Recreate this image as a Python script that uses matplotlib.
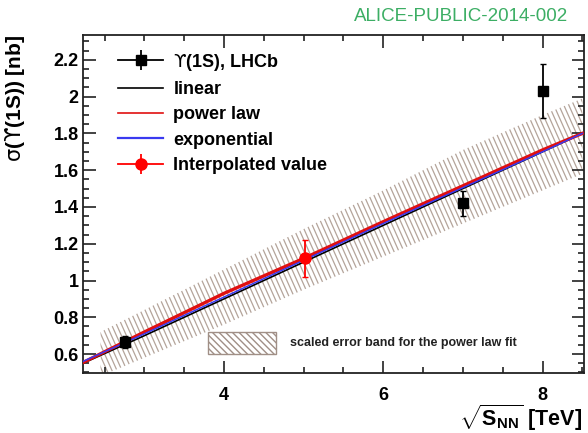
import numpy as np
import matplotlib
matplotlib.use("Agg")
import matplotlib.pyplot as plt
from matplotlib.lines import Line2D
from matplotlib.patches import Rectangle
from matplotlib.collections import LineCollection
from matplotlib.legend_handler import HandlerTuple

plt.rcParams['font.family'] = ['Liberation Sans', 'DejaVu Sans']
plt.rcParams['mathtext.fontset'] = 'custom'
plt.rcParams['mathtext.rm'] = 'Liberation Sans'
plt.rcParams['mathtext.bf'] = 'Liberation Sans:bold'
plt.rcParams['mathtext.sf'] = 'DejaVu Sans'

# ---- data ----
lhcb_energy = [2.76, 7.0, 8.0]
lhcb_sigma = [0.665, 1.42, 2.03]
lhcb_err = [0.032, 0.068, 0.145]

interp_energy = [5.02]
interp_sigma = [1.12]
interp_err = [0.10]

fit_energy = [2.23, 3.0, 4.0, 5.0, 6.0, 7.0, 8.0, 8.5]
linear_fit = [0.55, 0.70, 0.90, 1.10, 1.30, 1.50, 1.70, 1.80]
power_fit = [0.554, 0.72, 0.93, 1.12, 1.32, 1.515, 1.71, 1.80]
expo_fit = [0.56, 0.71, 0.91, 1.11, 1.31, 1.505, 1.70, 1.80]

band_energy = [2.45, 3.0, 4.0, 5.0, 6.0, 7.0, 8.0, 8.5]
band_low = [0.48, 0.58, 0.76, 0.95, 1.13, 1.31, 1.49, 1.58]
band_high = [0.72, 0.84, 1.06, 1.28, 1.49, 1.71, 1.90, 1.99]

UPS = '$\\mathsf{\u03d2}$'
SIG = '$\\mathsf{\u03c3}$'
legend_labels = [UPS + "(1S), LHCb", "linear", "power law", "exponential", "Interpolated value"]
band_label = "scaled error band for the power law fit"
watermark = "ALICE-PUBLIC-2014-002"
ylabel = SIG + '(' + UPS + '(1S)) [nb]'

# ---- figure ----
fig = plt.figure(figsize=(5.88, 4.33), dpi=100)
ax = fig.add_axes([83/588, 60/433, 501/588, 338/433])
ax.set_xlim(2.23, 8.52)
ax.set_ylim(0.497, 2.335)

hatch_col = '#b4a49a'
plt.rcParams['hatch.color'] = hatch_col
band = ax.fill_between(band_energy, band_low, band_high, facecolor='none',
                       edgecolor='none', linewidth=0)
# custom steep hatch clipped to band
W, H = 501.0, 338.0
slant = H * np.tan(np.radians(24)) / W
starts = np.arange(-0.4, 1.05, 5.0 / W)
segs = [[(u, 1.0), (u + slant, 0.0)] for u in starts]
lc = LineCollection(segs, colors=hatch_col, linewidths=0.9, transform=ax.transAxes, zorder=1)
ax.add_collection(lc)
lc.set_clip_path(band.get_paths()[0], ax.transData)

ax.plot(fit_energy, linear_fit, color='black', lw=1.2, zorder=3)
ax.plot(fit_energy, power_fit, color='#e01010', lw=2.4, zorder=4)
ax.plot(fit_energy, expo_fit, color='#3a3af0', lw=1.1, zorder=5)

ax.errorbar(lhcb_energy, lhcb_sigma, yerr=lhcb_err, fmt='s', color='black',
            ms=7, capsize=2.5, elinewidth=1.3, zorder=6)
ax.errorbar(interp_energy, interp_sigma, yerr=interp_err, fmt='o', color='#ff0000',
            ms=8, capsize=2.5, elinewidth=1.3, zorder=7)

# legend
h_lhcb = (Line2D([], [], color='black', marker='s', ms=7, lw=1.3),
          Line2D([], [], color='black', marker='|', ms=14, mew=1.3, lw=0))
h_lin = Line2D([], [], color='black', lw=1.2)
h_pow = Line2D([], [], color='#e01010', lw=1.2)
h_exp = Line2D([], [], color='#3a3af0', lw=1.6)
h_int = (Line2D([], [], color='#ff0000', marker='o', ms=8, lw=1.3),
         Line2D([], [], color='#ff0000', marker='|', ms=14, mew=1.3, lw=0))
leg = ax.legend([h_lhcb, h_lin, h_pow, h_exp, h_int], legend_labels,
                handler_map={tuple: HandlerTuple(ndivide=1)},
                loc='upper left', bbox_to_anchor=(0.045, 0.988), frameon=False,
                prop={'weight': 'bold', 'size': 13}, handlelength=2.5,
                handletextpad=0.55, labelspacing=0.46, borderpad=0.2)

# band legend
ax.add_patch(Rectangle((0.2495, 0.056), 0.1355, 0.065, transform=ax.transAxes,
                       facecolor='white', edgecolor='#a08f86', hatch='\\\\\\\\\\',
                       lw=1.0, zorder=8))
ax.text(0.413, 0.089, band_label, transform=ax.transAxes, fontsize=9,
        fontweight='bold', va='center', ha='left', color='#222222')

# ticks
ax.set_xticks([4, 6, 8])
ax.set_xticklabels(['4', '6', '8'])
ax.set_xticks(np.arange(2.5, 8.51, 0.5), minor=True)
ax.set_yticks([0.6, 0.8, 1.0, 1.2, 1.4, 1.6, 1.8, 2.0, 2.2])
ax.set_yticklabels(['0.6', '0.8', '1', '1.2', '1.4', '1.6', '1.8', '2', '2.2'])
ax.set_yticks(np.arange(0.5, 2.33, 0.05), minor=True)
ax.tick_params(which='both', direction='in', top=True, right=True, width=1.2, color='#222222')
ax.tick_params(which='major', length=9)
ax.tick_params(which='minor', length=4.5)
ax.tick_params(axis='x', which='major', pad=10, labelsize=13)
ax.tick_params(axis='y', which='major', pad=3, labelsize=13)
for lab in ax.get_xticklabels() + ax.get_yticklabels():
    lab.set_fontweight('bold')
for sp in ax.spines.values():
    sp.set_linewidth(1.3)
    sp.set_color('#222222')

ax.set_xlabel(r'$\sqrt{\mathbf{S}_{\mathbf{NN}}}$ [TeV]', fontsize=15.5, fontweight='bold',
              loc='right')
ax.xaxis.set_label_coords(0.997, -0.088)
ax.set_ylabel(ylabel, fontsize=15, fontweight='bold', loc='top')
ax.yaxis.set_label_coords(-0.112, 1.0)

fig.text(0.966, 0.962, watermark, color='#3cae64', fontsize=13.5, ha='right', va='center')

fig.savefig('out.png', dpi=100)
